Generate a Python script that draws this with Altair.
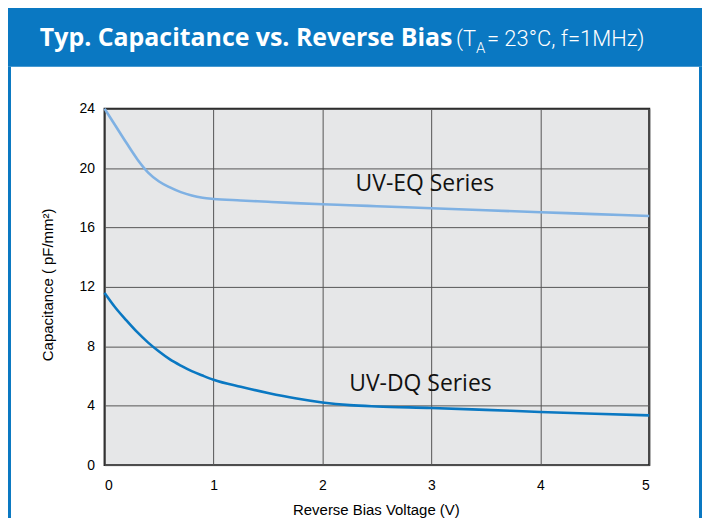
import altair as alt
import pandas as pd

# ---- data ----
voltage = [0, 0.1, 0.2, 0.3, 0.4, 0.5, 0.6, 0.7, 0.8, 0.9, 1.0, 1.25, 1.5, 1.75, 2.0, 2.25, 2.5, 3.0, 3.5, 4.0, 4.5, 5.0]
uv_eq = [24.0, 22.85, 21.7, 20.6, 19.7, 19.1, 18.7, 18.38, 18.15, 18.0, 17.92, 17.82, 17.73, 17.64, 17.56, 17.5, 17.43, 17.3, 17.16, 17.03, 16.9, 16.77]
uv_dq = [11.6, 10.6, 9.75, 8.95, 8.25, 7.65, 7.12, 6.7, 6.33, 6.03, 5.75, 5.27, 4.86, 4.5, 4.22, 4.04, 3.95, 3.85, 3.72, 3.58, 3.46, 3.35]
series_names = ["UV-EQ Series", "UV-DQ Series"]
series_colors = ["#7fb1e3", "#0a78c2"]
label_x = [2.94, 2.9]
label_y = [18.9, 5.45]
x_ticks = [0, 1, 2, 3, 4, 5]
y_ticks = [0, 4, 8, 12, 16, 20, 24]

rows = []
for v, a, b in zip(voltage, uv_eq, uv_dq):
    rows.append({"V": v, "C": a, "s": series_names[0]})
    rows.append({"V": v, "C": b, "s": series_names[1]})
df = pd.DataFrame(rows)
lab_df = pd.DataFrame({"V": label_x, "C": label_y, "s": series_names})

W, H = 547, 358
BLUE = "#0a78c2"

xs = alt.Scale(domain=[0, 5], nice=False)
ys = alt.Scale(domain=[0, 24], nice=False)

lines = alt.Chart(df).mark_line(strokeWidth=2.6, interpolate="monotone").encode(
    x=alt.X("V:Q", scale=xs,
            axis=alt.Axis(values=x_ticks, title=None, labelPadding=13, format="d")),
    y=alt.Y("C:Q", scale=ys,
            axis=alt.Axis(values=y_ticks, title=None, labelPadding=10, format="d")),
    color=alt.Color("s:N", scale=alt.Scale(domain=series_names, range=series_colors), legend=None),
    detail="s:N",
)

labels = alt.Chart(lab_df).mark_text(font="Open Sans", fontSize=23, color="#111111",
                                     align="center", baseline="middle").encode(
    x=alt.X("V:Q", scale=xs), y=alt.Y("C:Q", scale=ys), text="s:N")

one = alt.Data(values=[{"k": 1}])

header = alt.Chart(one).mark_rect(color=BLUE).encode(
    x=alt.value(-97), x2=alt.value(600), y=alt.value(-102), y2=alt.value(-42))
left_line = alt.Chart(one).mark_rule(color=BLUE, strokeWidth=3).encode(
    x=alt.value(-95.5), y=alt.value(-42), y2=alt.value(420))
right_line = alt.Chart(one).mark_rule(color=BLUE, strokeWidth=3).encode(
    x=alt.value(598.5), y=alt.value(-42), y2=alt.value(420))

title_bold = alt.Chart(one).mark_text(font="Open Sans", fontWeight="bold", fontSize=25, color="white",
                                      align="left", baseline="alphabetic").encode(
    x=alt.value(-65), y=alt.value(-63), text=alt.value("Typ. Capacitance vs. Reverse Bias"))
light_font = "Roboto"
t1 = alt.Chart(one).mark_text(font=light_font, fontWeight=300, fontSize=22, color="white",
                              align="left", baseline="alphabetic").encode(
    x=alt.value(353), y=alt.value(-63), text=alt.value("(T"))
t2 = alt.Chart(one).mark_text(font=light_font, fontWeight=300, fontSize=15, color="white",
                              align="left", baseline="alphabetic").encode(
    x=alt.value(373), y=alt.value(-56), text=alt.value("A"))
t3 = alt.Chart(one).mark_text(font=light_font, fontWeight=300, fontSize=22, color="white",
                              align="left", baseline="alphabetic").encode(
    x=alt.value(384), y=alt.value(-63), text=alt.value("= 23°C, f=1MHz)"))

ytitle = alt.Chart(one).mark_text(font="Liberation Sans", fontSize=15, color="black",
                                  angle=270, align="center", baseline="middle").encode(
    x=alt.value(-57), y=alt.value(177), text=alt.value("Capacitance ( pF/mm²)"))
xtitle = alt.Chart(one).mark_text(font="Liberation Sans", fontSize=15, color="black",
                                  align="center", baseline="middle").encode(
    x=alt.value(273), y=alt.value(403), text=alt.value("Reverse Bias Voltage (V)"))

chart = alt.layer(
    header, left_line, right_line, title_bold, t1, t2, t3, lines, labels, ytitle, xtitle
).properties(
    width=W, height=H,
    padding={"left": 97, "top": 100, "right": 53, "bottom": 52},
    autosize=alt.AutoSizeParams(type="none"),
    background="white",
).configure_view(
    fill="#e6e7e8", stroke="#1a1a1a", strokeWidth=2
).configure_axis(
    labelFont="Liberation Sans", labelFontSize=14, labelColor="black",
    ticks=False, domain=False, grid=True, gridColor="#555555", gridWidth=1, gridOpacity=1,
)

chart.save("out.html", embed_options={"renderer": "svg", "actions": False})
